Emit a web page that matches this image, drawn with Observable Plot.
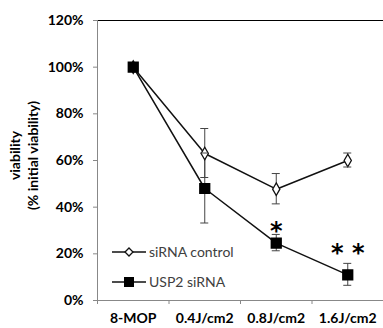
<!DOCTYPE html>
<html>
<head>
<meta charset="utf-8">
<script src="https://cdn.jsdelivr.net/npm/d3@7"></script>
<script src="https://cdn.jsdelivr.net/npm/@observablehq/plot@0.6"></script>
<style>
  html, body { margin: 0; padding: 0; background: #fff; }
  #wrap { position: relative; width: 383px; height: 328px; font-family: Lato, "Open Sans", sans-serif; }
  #legend { position: absolute; left: 112px; top: 237px; font-size: 14px; color: #404040; line-height: 30px; }
  #legend div { display: flex; align-items: center; height: 30px; }
  #legend svg { margin-right: 3px; }
</style>
</head>
<body>
<div id="wrap"></div>
<script>
const categories = ["8-MOP", "0.4J/cm2", "0.8J/cm2", "1.6J/cm2"];
const controlValues = [1.00, 0.63, 0.477, 0.60];
const controlErrors = [0, 0.105, 0.065, 0.03];
const usp2Values = [1.00, 0.48, 0.246, 0.11];
const usp2Errors = [0, 0.15, 0.035, 0.047];
const yTicks = [0, 0.2, 0.4, 0.6, 0.8, 1.0, 1.2];
const significance = [null, null, "*", "* *"];
const significanceY = [null, null, 0.317, 0.223];
const seriesNames = ["siRNA control", "USP2 siRNA"];

const control = categories.map((c, i) => ({i, v: controlValues[i], e: controlErrors[i]}));
const usp2 = categories.map((c, i) => ({i, v: usp2Values[i], e: usp2Errors[i]}));
const sig = categories.map((c, i) => ({i, s: significance[i], v: significanceY[i]})).filter(d => d.s);
const bounds = d3.range(categories.length + 1).map(k => k - 0.5);

const font = "Lato, 'Open Sans', sans-serif";

const chart = Plot.plot({
  width: 383,
  height: 328,
  marginLeft: 97,
  marginRight: 0,
  marginTop: 20,
  marginBottom: 28,
  style: {fontFamily: font, fontSize: "14px", fontWeight: "bold", color: "#000", background: "#fff"},
  x: {type: "linear", domain: [-0.5, categories.length - 0.5]},
  y: {type: "linear", domain: [0, 1.2]},
  marks: [
    Plot.ruleY([1.2], {stroke: "#000", strokeWidth: 1.2}),
    Plot.ruleX([-0.5], {stroke: "#888"}),
    Plot.ruleY([0], {stroke: "#888"}),
    Plot.axisY(yTicks, {tickFormat: d => Math.round(d * 100) + "%", tickSize: 4, tickPadding: 10, stroke: "#888", fontSize: 14, fontWeight: "bold", label: null}),
    Plot.axisX(bounds, {tickFormat: () => "", tickSize: 4, stroke: "#888", label: null}),
    Plot.axisX(d3.range(categories.length), {tickFormat: i => categories[i], tickSize: 0, tickPadding: 13, fontSize: 14, fontWeight: "bold", label: null}),
    Plot.ruleX(control.filter(d => d.e > 0), {x: "i", y1: d => d.v - d.e, y2: d => d.v + d.e, stroke: "#444", strokeWidth: 1}),
    Plot.ruleX(usp2.filter(d => d.e > 0), {x: "i", y1: d => d.v - d.e, y2: d => d.v + d.e, stroke: "#444", strokeWidth: 1}),
    Plot.line(control, {x: "i", y: "v", stroke: "#111", strokeWidth: 1.5}),
    Plot.line(usp2, {x: "i", y: "v", stroke: "#111", strokeWidth: 1.5}),
    Plot.dot(control, {x: "i", y: "v", symbol: "diamond", r: 3.8, fill: "#fff", stroke: "#111", strokeWidth: 1.3}),
    Plot.dot(usp2, {x: "i", y: "v", symbol: "square", r: 5.5, fill: "#000", stroke: "#000"}),
    Plot.text(sig, {x: "i", y: "v", text: "s", dy: 5, fontSize: 24, fontWeight: "bold", fill: "#000", fontFamily: "DejaVu Sans"}),
    Plot.text(["viability"], {frameAnchor: "left", textAnchor: "middle", rotate: -90, dx: -82, dy: -5, fontSize: 14, fontWeight: "bold", fill: "#000"}),
    Plot.text(["(% initial viability)"], {frameAnchor: "left", textAnchor: "middle", rotate: -90, dx: -64, dy: -5, fontSize: 14, fontWeight: "bold", fill: "#000"})
  ]
});

// error bar caps for both series
const x = chart.scale("x"), y = chart.scale("y");
const capLayer = d3.select(chart).append("g").attr("stroke", "#444");
[control, usp2].forEach(series => series.filter(d => d.e > 0).forEach(d => {
  [d.v - d.e, d.v + d.e].forEach(val => {
    capLayer.append("line").attr("x1", x.apply(d.i) - 4).attr("x2", x.apply(d.i) + 4)
      .attr("y1", y.apply(val)).attr("y2", y.apply(val));
  });
}));

const wrap = document.getElementById("wrap");
wrap.appendChild(chart);
const legend = document.createElement("div");
legend.id = "legend";
legend.innerHTML =
  `<div><svg width="34" height="12"><line x1="0" y1="6" x2="34" y2="6" stroke="#111" stroke-width="1.5"/><path d="M17,2L21,6L17,10L13,6Z" fill="#fff" stroke="#111" stroke-width="1.3"/></svg>${seriesNames[0]}</div>` +
  `<div><svg width="34" height="12"><line x1="0" y1="6" x2="34" y2="6" stroke="#111" stroke-width="1.5"/><rect x="12" y="1" width="10" height="10" fill="#000"/></svg>${seriesNames[1]}</div>`;
wrap.appendChild(legend);
</script>
</body>
</html>
